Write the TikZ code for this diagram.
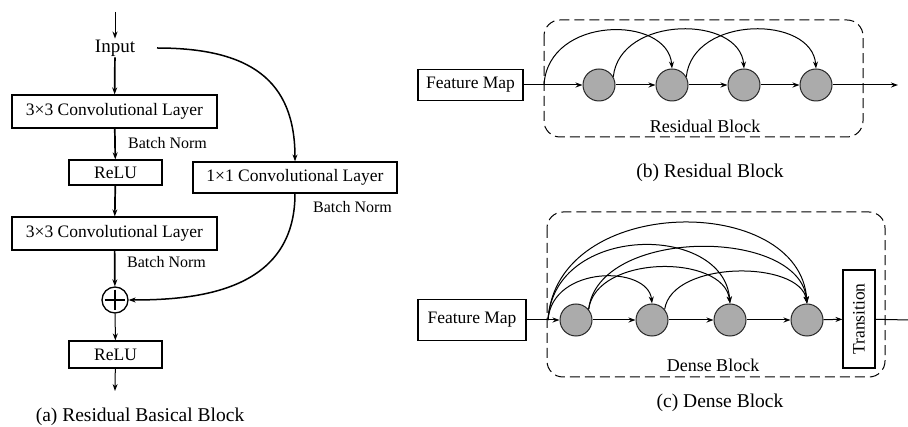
\documentclass[tikz,border=0pt]{standalone}
\usepackage{fontspec}
\setmainfont{Liberation Serif}
\usetikzlibrary{arrows.meta,calc}
\begin{document}
\begin{tikzpicture}[x=1pt,y=-1pt,
  tipstyle/.style={-{Stealth[length=7pt,width=5pt]}},
  conn/.style={line width=1pt,tipstyle},
  mainconn/.style={line width=1.7pt,tipstyle},
  box/.style={draw,line width=1.2pt,inner sep=0pt,font=\fontsize{17.5}{20}\selectfont},
  bn/.style={anchor=west,inner sep=0pt,font=\fontsize{16}{18}\selectfont},
  captext/.style={inner sep=0pt,font=\fontsize{19.5}{22}\selectfont},
  dot/.style={circle,draw=black!85,line width=1pt,fill=black!33,minimum size=32pt,inner sep=0pt},
  blk/.style={draw,dash pattern=on 10pt off 5pt,line width=1pt,rounded corners=16pt}]
\path[use as bounding box] (0,0) rectangle (908,427);

% ---------- (a) ----------
\coordinate (atop) at (115,12);
\node[inner sep=1pt,font=\fontsize{19}{22}\selectfont] (in) at (115,48) {Input};
\node[box,minimum width=205pt,minimum height=33pt] (c1) at (114.5,111.5) {3×3 Convolutional Layer};
\node[box,minimum width=93pt,minimum height=25pt] (r1) at (115.5,172.5) {ReLU};
\node[box,minimum width=205pt,minimum height=33pt] (c2) at (114.5,233.5) {3×3 Convolutional Layer};
\node[circle,draw,line width=1.3pt,minimum size=26pt,inner sep=0pt] (plus) at (115,300) {};
\node[box,minimum width=93pt,minimum height=27pt] (r2) at (115.5,354.5) {ReLU};
\coordinate (abot) at (115,391);
\node[box,minimum width=204pt,minimum height=31pt] (c11) at (295,177.5) {1×1 Convolutional Layer};
\coordinate (insplit) at (157,48);
\draw[line width=1.8pt] ($(plus.north)!0.12!(plus.south)$) -- ($(plus.south)!0.12!(plus.north)$)
  ($(plus.west)!0.12!(plus.east)$) -- ($(plus.east)!0.12!(plus.west)$);

\draw[conn] (atop) -- (in);
\draw[mainconn] (in) -- (c1);
\draw[mainconn] (c1) -- (r1);
\draw[mainconn] (r1) -- (c2);
\draw[mainconn] (c2) -- (plus);
\draw[conn] (plus) -- (r2);
\draw[conn] (r2) -- (abot);
\draw[line width=1.5pt,tipstyle] (insplit) .. controls (250,48) and (295,80) .. (c11.north);
\draw[line width=1.5pt,tipstyle] (c11.south) .. controls (295,290) and (200,300) .. (plus.east);

\node[bn] (bn1) at (128,143) {Batch Norm};
\node[bn] (bn2) at (127,262) {Batch Norm};
\node[bn] (bn3) at (313,207) {Batch Norm};
\node[captext] (capa) at (140,417) {(a) Residual Basical Block};

% ---------- (b) ----------
\draw[blk] (544,20) rectangle (863,137);
\node[box,minimum width=105pt,minimum height=31pt] (fm1) at (470.5,85) {Feature Map};
\coordinate (s1) at (544,85);
\node[dot] (b1) at (599,85) {};
\node[dot] (b2) at (672,85) {};
\node[dot] (b3) at (744,85) {};
\node[dot] (b4) at (816,85) {};
\coordinate (e1) at (898,85);
\draw[line width=1pt] (fm1.east) -- (s1);
\draw[conn] (s1) -- (b1);
\draw[conn] (b1) -- (b2);
\draw[conn] (b2) -- (b3);
\draw[conn] (b3) -- (b4);
\draw[conn] (b4) -- (e1);
\draw[conn] (s1) .. controls (548,15) and (668,15) .. (b2.north);
\draw[conn] (b1.30) .. controls (620,15) and (740,15) .. (b3.north);
\draw[conn] (b2.30) .. controls (693,15) and (812,15) .. (b4.north);
\node[captext,font=\fontsize{18}{20}\selectfont] (rbl) at (705,126) {Residual Block};
\node[captext] (capb) at (710,173) {(b) Residual Block};

% ---------- (c) ----------
\draw[blk] (547,212) rectangle (885,377);
\node[box,minimum width=108pt,minimum height=41pt] (fm2) at (472,320) {Feature Map};
\coordinate (s2) at (548,320);
\node[dot] (d1) at (576,320) {};
\node[dot] (d2) at (652,320) {};
\node[dot] (d3) at (730,320) {};
\node[dot] (d4) at (807,320) {};
\node[box,fill=white,minimum width=32pt,minimum height=98pt] (tr) at (859,319) {\rotatebox{90}{Transition}};
\coordinate (e2) at (910,320);
\draw[line width=1pt] (fm2.east) -- (s2);
\draw[conn] (s2) -- (d1);
\draw[conn] (d1) -- (d2);
\draw[conn] (d2) -- (d3);
\draw[conn] (d3) -- (d4);
\draw[conn] (d4) -- (tr);
\draw[line width=1pt] (tr) -- (e2);
\draw[conn] (s2) .. controls (552,265) and (648,265) .. (d2.north);
\draw[conn] (s2) .. controls (554,223) and (724,223) .. (d3.north);
\draw[conn] (s2) .. controls (556,193) and (800,193) .. (d4.north);
\draw[conn] (d1.40) .. controls (596,254) and (724,254) .. (d3.north);
\draw[conn] (d1.40) .. controls (598,227) and (800,227) .. (d4.north);
\draw[conn] (d2.40) .. controls (672,260) and (800,260) .. (d4.north);
\node[captext,font=\fontsize{18}{20}\selectfont] (dbl) at (713,365) {Dense Block};
\node[captext] (capc) at (720,403) {(c) Dense Block};
\end{tikzpicture}
\end{document}
